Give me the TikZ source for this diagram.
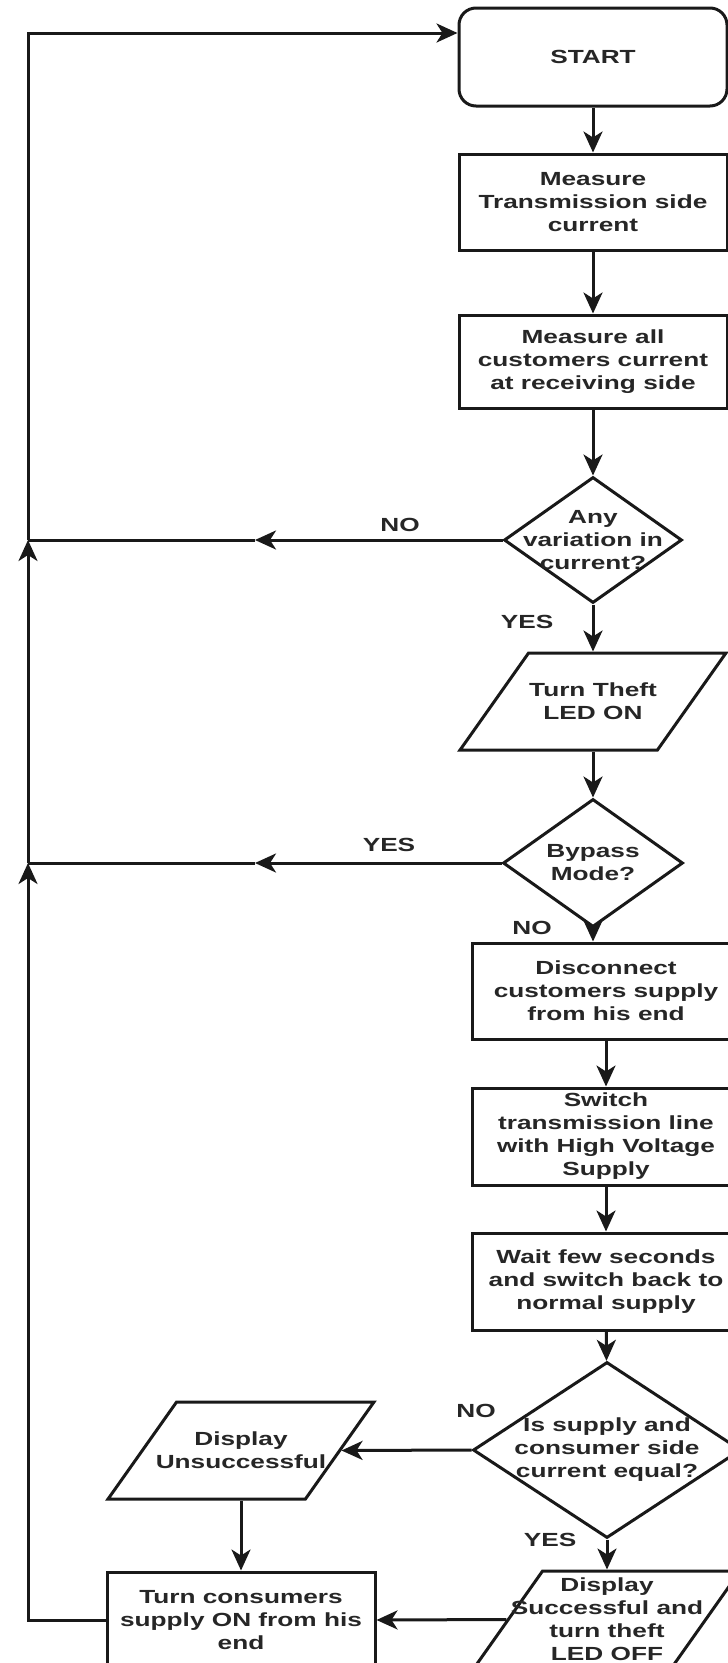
\documentclass[tikz,border=0pt]{standalone}
\usepackage{fontspec}
\setmainfont{Liberation Sans}[FakeStretch=1.38]
\usetikzlibrary{shapes.geometric, arrows.meta, positioning}
\newcommand{\flowfont}{\bfseries\fontsize{19}{23}\selectfont}
\tikzset{
    startbox/.style={draw, rectangle, rounded corners=17pt, minimum width=268pt, minimum height=98pt, align=center, draw=black!90, line width=3pt, font=\flowfont, text=black!85},
    procbox/.style={draw, rectangle, minimum width=268pt, minimum height=96pt, inner sep=2pt, align=center, draw=black!90, line width=3pt, font=\flowfont, text=black!85},
    decision/.style={draw, diamond, minimum width=178pt, minimum height=126pt, inner sep=1pt, draw=black!90, line width=3pt},
    iobox/.style={draw, trapezium, trapezium left angle=62, trapezium right angle=118, trapezium stretches=true, minimum width=266pt, minimum height=97pt, inner sep=2pt, draw=black!90, line width=3pt},
    flowtext/.style={inner sep=0pt, align=center, font=\flowfont, text=black!85},
    arrow/.style={line width=3pt, draw=black!90, -{Stealth[length=21pt, width=19pt, inset=6pt]}},
    connector/.style={line width=3pt, draw=black!90}
}
\begin{document}
\begin{tikzpicture}[x=1pt, y=-1pt]
        \useasboundingbox (0,0) rectangle (728,1663);
        \clip (0,0) rectangle (728,1663);

        % -----------------------------------------------------------------
        % MAIN COLUMN
        % -----------------------------------------------------------------
        \node[startbox] (start) at (593,57) {START};
        \node[procbox] (meastx) at (593,202) {Measure\\Transmission side\\current};
        \node[procbox, minimum height=93pt] (measrx) at (593,361.5) {Measure all\\customers current\\at receiving side};

        \node[decision] (variation) at (593,540) {};
        \node[flowtext] (variationtxt) at (variation) {Any\\variation in\\current?};

        \node[iobox] (theftled) at (593,701.5) {};
        \node[flowtext] (theftledtxt) at (theftled) {Turn Theft\\LED ON};

        \node[decision, minimum width=180pt, minimum height=128pt] (bypass) at (593,863) {};
        \node[flowtext] (bypasstxt) at (bypass) {Bypass\\Mode?};

        \node[procbox] (disconnect) at (606,991) {Disconnect\\customers supply\\from his end};
        \node[procbox, minimum height=97pt] (highvolt) at (606,1136.5) {Switch\\transmission line\\with High Voltage\\Supply};
        \node[procbox, minimum height=97pt] (waitback) at (606,1281.5) {Wait few seconds\\and switch back to\\normal supply};

        \node[decision, minimum width=268pt, minimum height=176pt] (equal) at (607,1450) {};
        \node[flowtext] (equaltxt) at (equal) {Is supply and\\consumer side\\current equal?};

        % -----------------------------------------------------------------
        % RESULT BRANCHES
        % -----------------------------------------------------------------
        \node[iobox] (unsucc) at (241,1450.5) {};
        \node[flowtext] (unsucctxt) at (unsucc) {Display\\Unsuccessful};

        \node[iobox] (succ) at (607,1619.5) {};
        \node[flowtext] (succtxt) at (succ) {Display\\Successful and\\turn theft\\LED OFF};

        \node[procbox] (turnon) at (241,1620) {Turn consumers\\supply ON from his\\end};

        % -----------------------------------------------------------------
        % LABELS
        % -----------------------------------------------------------------
        \node[flowtext] (lblno1) at (400,525) {NO};
        \node[flowtext] (lblyes1) at (527,622) {YES};
        \node[flowtext] (lblyes2) at (389,845) {YES};
        \node[flowtext] (lblno2) at (532,928) {NO};
        \node[flowtext] (lblno3) at (476,1411) {NO};
        \node[flowtext] (lblyes3) at (550,1540) {YES};

        % -----------------------------------------------------------------
        % CONNECTORS
        % -----------------------------------------------------------------
        \draw[arrow] (start) -- (meastx);
        \draw[arrow] (meastx) -- (measrx);
        \draw[arrow] (measrx) -- (variation);
        \draw[arrow] (variation) -- (theftled);
        \draw[arrow] (theftled) -- (bypass);
        \draw[arrow] (bypass.south) -- (bypass.south |- disconnect.north);
        \draw[arrow] (disconnect) -- (highvolt);
        \draw[arrow] (highvolt) -- (waitback);
        \draw[arrow] (waitback) -- (equal);
        \draw[arrow] (equal.west) -- (unsucc.east);
        \draw[arrow] (unsucc) -- (turnon);
        \draw[arrow] (equal) -- (succ);
        \draw[arrow] (succ.west) -- (turnon.east);

        % return loop on the left
        \coordinate (ltop) at (28,33);
        \coordinate (j1) at (variation.west -| ltop);
        \coordinate (j2) at (bypass.west -| ltop);
        \coordinate (lbot) at (turnon.west -| ltop);
        \coordinate (mid1) at (255,540);
        \coordinate (mid2) at (255,863);

        \draw[arrow] (turnon.west) -- (lbot) -- (j2);
        \draw[arrow] (j2) -- (j1);
        \draw[arrow] (j1) -- (ltop) -- (ltop -| start.west);
        \draw[arrow] (variation.west) -- (mid1);
        \draw[connector] (mid1) -- (j1);
        \draw[arrow] (bypass.west) -- (mid2);
        \draw[connector] (mid2) -- (j2);

    \end{tikzpicture}
\end{document}
